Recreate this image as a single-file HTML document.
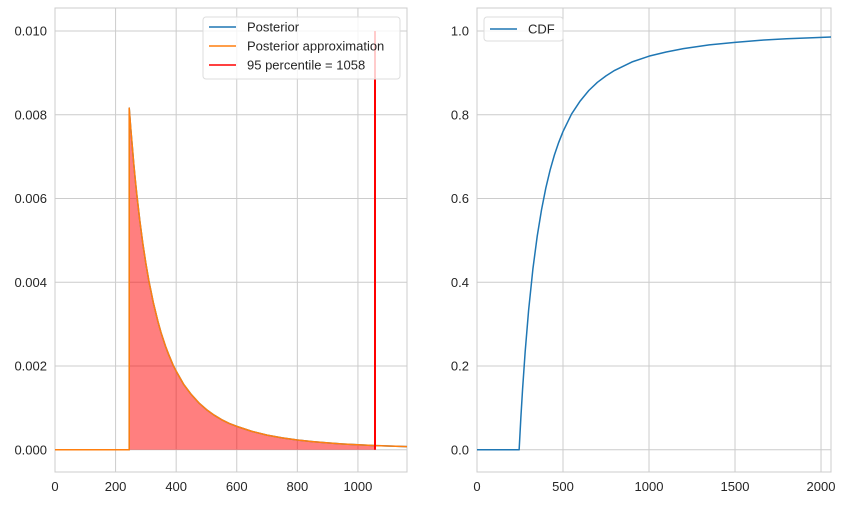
<!DOCTYPE html>
<html><head><meta charset="utf-8"><style>
body{margin:0;background:#fff;font-family:"Liberation Sans",sans-serif}
svg text{font-family:"Liberation Sans",sans-serif;font-size:13px;fill:#262626}
</style></head><body>
<svg id="c" width="845" height="503"></svg>
<script>
const pdfX=[0,245,245,250,255,260,265,270,280,290,300,310,325,340,350,365,375,390,400,425,450,475,500,525,550,575,600,650,700,750,800,850,900,950,1000,1058,1100,1162];
const pdfY=[0,0,0.00816,0.00768,0.00726,0.00683,0.00645,0.00610,0.00547,0.00492,0.00445,0.00403,0.00350,0.00306,0.00280,0.00247,0.00228,0.00202,0.00188,0.00156,0.00132,0.00112,0.00096,0.00083,0.00072,0.00063,0.00056,0.00044,0.00035,0.000285,0.000234,0.000196,0.000165,0.000140,0.000120,0.000101,0.000090,0.000077];
const cdfX=[0,245,255,265,280,300,325,350,375,400,425,450,475,500,550,600,650,700,750,800,900,1000,1100,1200,1350,1500,1650,1800,1950,2058];
const cdfY=[0,0,0.077,0.145,0.234,0.333,0.432,0.51,0.573,0.625,0.668,0.704,0.734,0.760,0.802,0.833,0.858,0.8775,0.893,0.906,0.926,0.940,0.950,0.958,0.967,0.973,0.978,0.9815,0.984,0.9858];
const pct=1058;
const leftXTicks=[0,200,400,600,800,1000];
const leftYTicks=[0,0.002,0.004,0.006,0.008,0.010];
const rightXTicks=[0,500,1000,1500,2000];
const rightYTicks=[0,0.2,0.4,0.6,0.8,1.0];
const NS="http://www.w3.org/2000/svg",svg=document.getElementById('c');
function el(t,a,p){const e=document.createElementNS(NS,t);for(const k in a)e.setAttribute(k,a[k]);(p||svg).appendChild(e);return e;}
function axes(L,R,T,B,x0,x1,y0,y1,xt,yt,fx,fy,name){
 const g=el('g',{});
 const sx=v=>L+(v-x0)/(x1-x0)*(R-L),sy=v=>B-(v-y0)/(y1-y0)*(B-T);
 xt.forEach(v=>{el('line',{x1:sx(v),x2:sx(v),y1:T,y2:B,stroke:'#cccccc','stroke-width':1},g);
  const t=el('text',{x:sx(v),y:B+19,'text-anchor':'middle'},g);t.textContent=fx(v);});
 yt.forEach(v=>{el('line',{x1:L,x2:R,y1:sy(v),y2:sy(v),stroke:'#cccccc','stroke-width':1},g);
  const t=el('text',{x:L-8,y:sy(v)+4.5,'text-anchor':'end'},g);t.textContent=fy(v);});
 el('rect',{x:L,y:T,width:R-L,height:B-T,fill:'none',stroke:'#cccccc','stroke-width':1},g);
 return {sx,sy,g};
}
const A=axes(55,407,8,472,0,1162,-0.00053,0.01055,leftXTicks,leftYTicks,v=>v,v=>v.toFixed(3),'left-axes');
let fp=[];pdfX.forEach((x,i)=>{if(x>=245&&x<=pct)fp.push(A.sx(x)+','+A.sy(pdfY[i]));});
fp.unshift(A.sx(245)+','+A.sy(0));fp.push(A.sx(pct)+','+A.sy(0));
const fill=el('polygon',{points:fp.join(' '),fill:'rgba(255,0,0,0.5)'});

const pts=pdfX.map((x,i)=>A.sx(x)+','+A.sy(pdfY[i])).join(' ');
const l1=el('polyline',{points:pts,fill:'none',stroke:'#1f77b4','stroke-width':1.5,'stroke-linejoin':'round'});

const l2=el('polyline',{points:pts,fill:'none',stroke:'#ff7f0e','stroke-width':1.5,'stroke-linejoin':'round'});

const pl=el('line',{x1:Math.round(A.sx(pct)),x2:Math.round(A.sx(pct)),y1:A.sy(0),y2:A.sy(0.010),stroke:'#ff0000','stroke-width':2});

const lg=el('g',{});
el('rect',{x:203,y:17,width:197,height:62,rx:3,fill:'rgba(255,255,255,0.8)',stroke:'#dddddd'},lg);
[['Posterior','#1f77b4'],['Posterior approximation','#ff7f0e'],['95 percentile = '+pct,'#ff0000']].forEach((d,i)=>{
 const y=27+i*19;el('line',{x1:209,x2:236,y1:y,y2:y,stroke:d[1],'stroke-width':1.5},lg);
 const t=el('text',{x:247,y:y+4.5},lg);t.textContent=d[0];});
const B2=axes(477,831,8,472,0,2058,-0.053,1.055,rightXTicks,rightYTicks,v=>v,v=>v.toFixed(1),'right-axes');
const c=el('polyline',{points:cdfX.map((x,i)=>B2.sx(x)+','+B2.sy(cdfY[i])).join(' '),fill:'none',stroke:'#1f77b4','stroke-width':1.5,'stroke-linejoin':'round'});

const lg2=el('g',{});
el('rect',{x:484,y:17,width:79,height:24,rx:3,fill:'rgba(255,255,255,0.8)',stroke:'#dddddd'},lg2);
el('line',{x1:490,x2:517,y1:29,y2:29,stroke:'#1f77b4','stroke-width':1.5},lg2);
const t2=el('text',{x:528,y:33.5},lg2);t2.textContent='CDF';
</script>
</body></html>
